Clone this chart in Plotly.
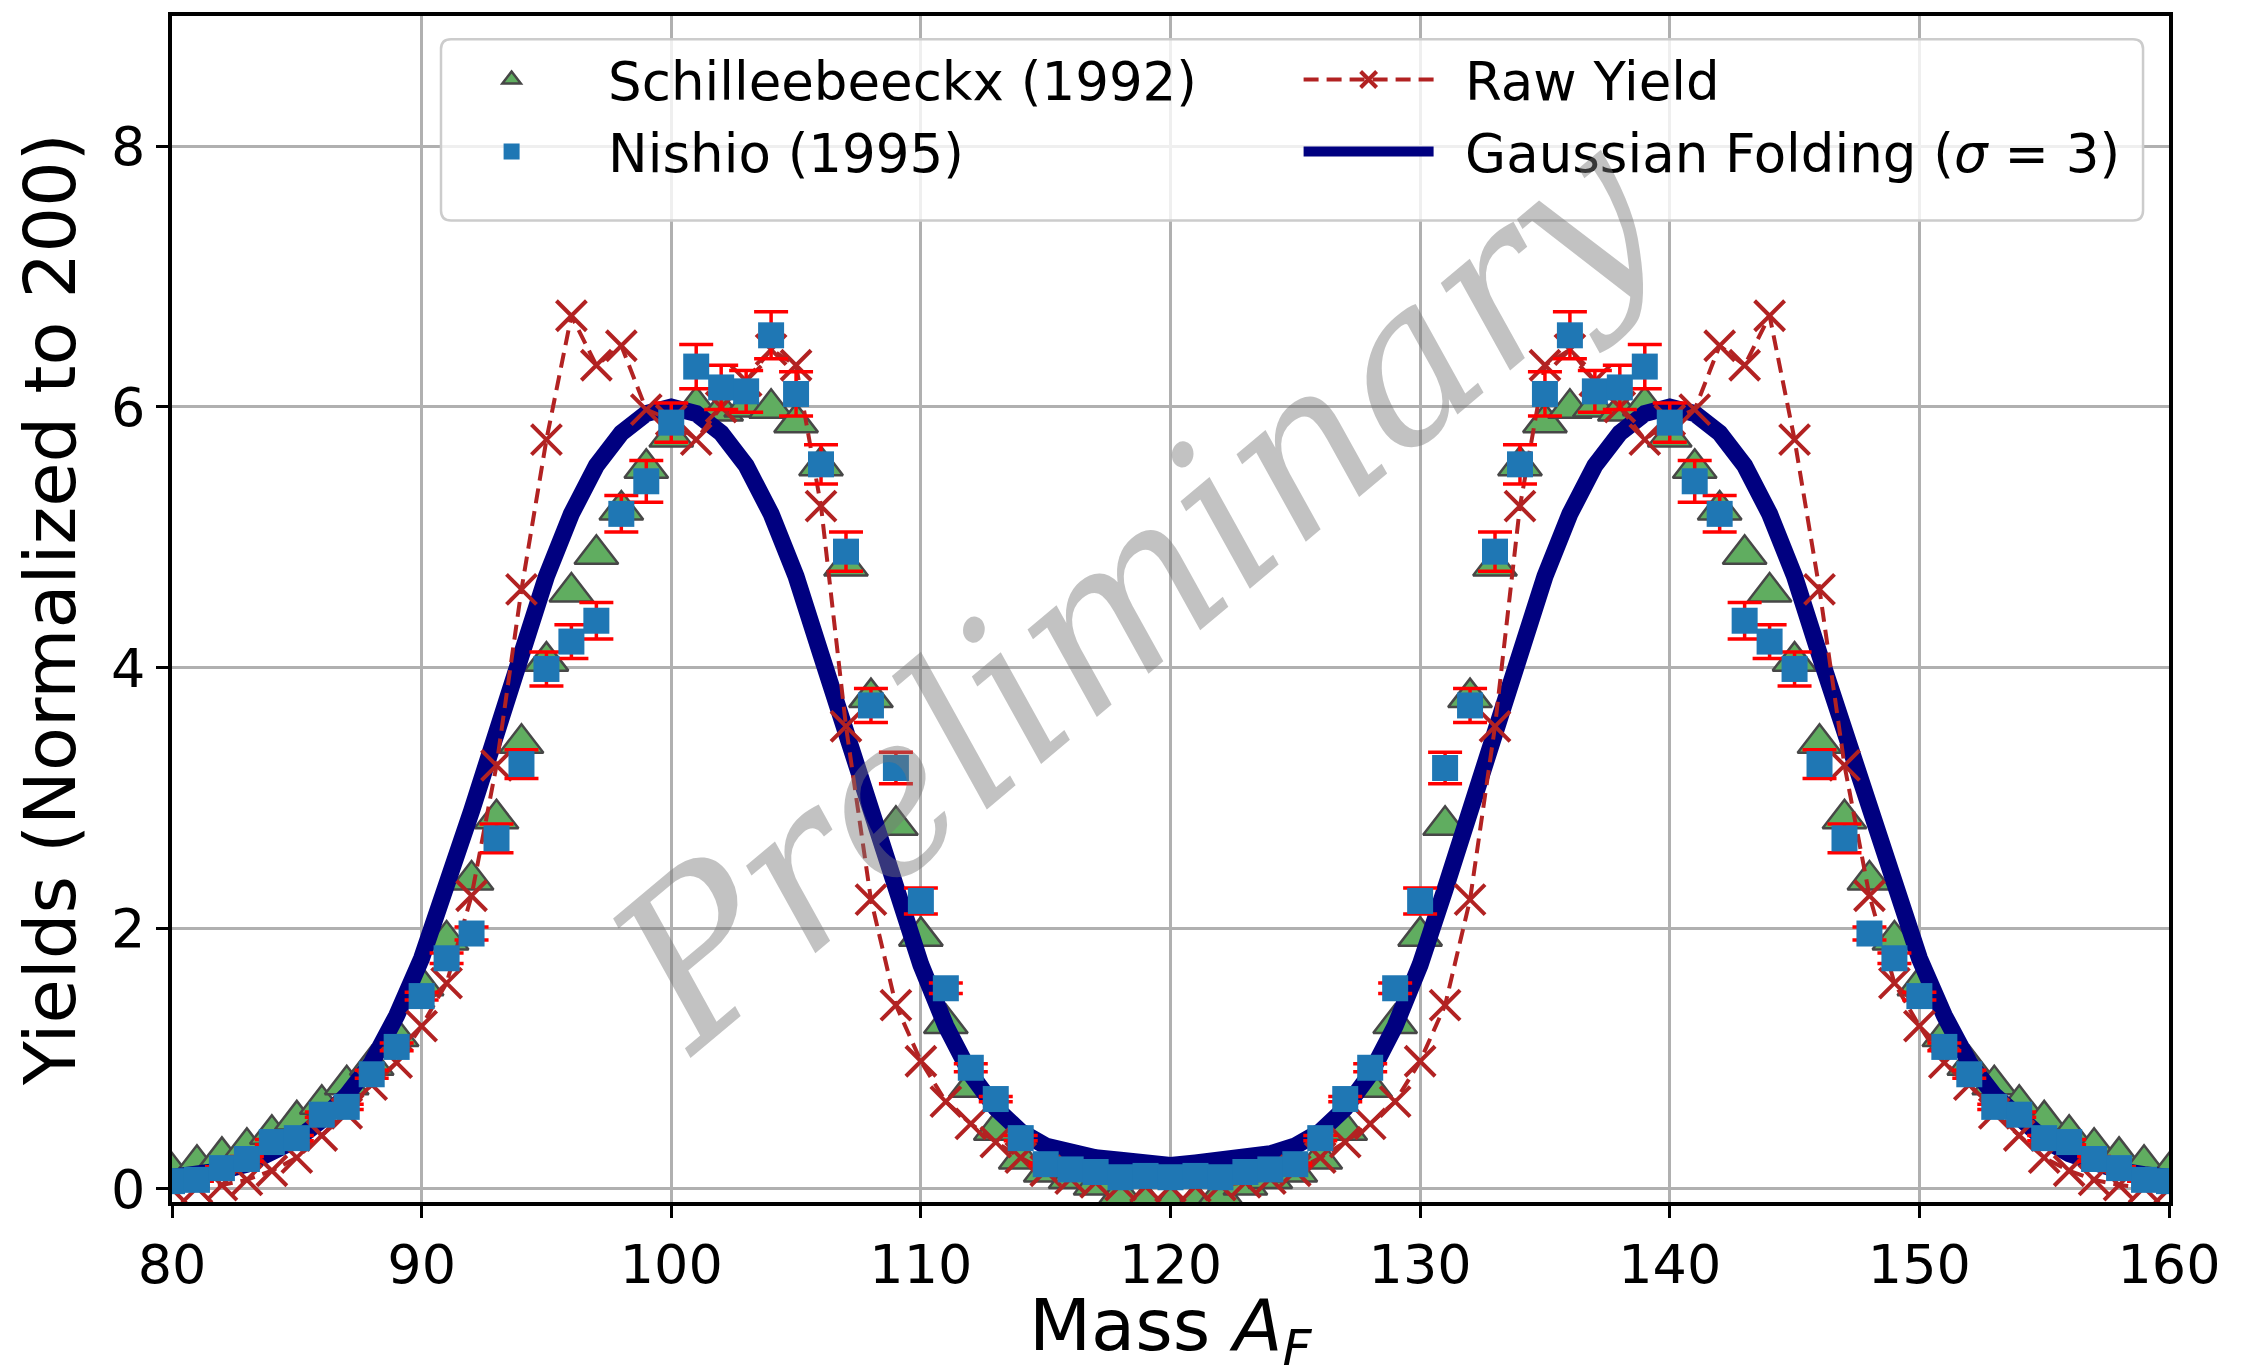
import plotly.graph_objects as go

mass = list(range(80, 161))

schilleebeeckx = [
    0.13, 0.19, 0.25, 0.32, 0.42, 0.53, 0.65, 0.80, 0.95, 1.17,
    1.56, 1.91, 2.37, 2.84, 3.42, 4.05, 4.58, 4.87, 5.21, 5.53,
    5.77, 6.01, 5.97, 6.00, 5.99, 5.88, 5.55, 4.78, 3.77, 2.79,
    1.94, 1.27, 0.78, 0.45, 0.23, 0.13, 0.08, 0.03, -0.04, -0.10,
    -0.12,
    -0.10, -0.04, 0.03, 0.08, 0.13, 0.23, 0.45, 0.78, 1.27, 1.94,
    2.79, 3.77, 4.78, 5.55, 5.88, 5.99, 6.00, 5.97, 6.01, 5.77,
    5.53, 5.21, 4.87, 4.58, 4.05, 3.42, 2.84, 2.37, 1.91, 1.56,
    1.17, 0.95, 0.80, 0.65, 0.53, 0.42, 0.32, 0.25, 0.19, 0.13,
]

nishio = [
    0.06, 0.07, 0.16, 0.23, 0.36, 0.39, 0.57, 0.63, 0.88, 1.09,
    1.48, 1.77, 1.96, 2.69, 3.26, 3.99, 4.20, 4.36, 5.18, 5.43,
    5.88, 6.31, 6.15, 6.12, 6.55, 6.10, 5.56, 4.89, 3.71, 3.23,
    2.21, 1.54, 0.93, 0.69, 0.39, 0.19, 0.15, 0.13, 0.09, 0.10,
    0.09,
    0.10, 0.09, 0.13, 0.15, 0.19, 0.39, 0.69, 0.93, 1.54, 2.21,
    3.23, 3.71, 4.89, 5.56, 6.10, 6.55, 6.12, 6.15, 6.31, 5.88,
    5.43, 5.18, 4.36, 4.20, 3.99, 3.26, 2.69, 1.96, 1.77, 1.48,
    1.09, 0.88, 0.63, 0.57, 0.39, 0.36, 0.23, 0.16, 0.07, 0.06,
]

nishio_err = [
    0.01, 0.01, 0.01, 0.02, 0.02, 0.02, 0.02, 0.02, 0.03, 0.03,
    0.03, 0.04, 0.05, 0.11, 0.11, 0.13, 0.13, 0.14, 0.14, 0.16,
    0.15, 0.17, 0.17, 0.16, 0.18, 0.17, 0.15, 0.15, 0.13, 0.12,
    0.10, 0.04, 0.03, 0.02, 0.02, 0.01, 0.01, 0.01, 0.01, 0.01,
    0.01,
    0.01, 0.01, 0.01, 0.01, 0.01, 0.02, 0.02, 0.03, 0.04, 0.10,
    0.12, 0.13, 0.15, 0.15, 0.17, 0.18, 0.16, 0.17, 0.17, 0.15,
    0.16, 0.14, 0.14, 0.13, 0.13, 0.11, 0.11, 0.05, 0.04, 0.03,
    0.03, 0.03, 0.02, 0.02, 0.02, 0.02, 0.02, 0.01, 0.01, 0.01,
]

raw_yield = [
    0.00, 0.01, 0.03, 0.07, 0.14, 0.24, 0.41, 0.58, 0.80, 0.97,
    1.25, 1.58, 2.25, 3.25, 4.60, 5.75, 6.70, 6.32, 6.47, 5.98,
    5.90, 5.75, 6.00, 6.20, 6.44, 6.32, 5.24, 3.55, 2.22, 1.41,
    0.98, 0.67, 0.50, 0.36, 0.24, 0.14, 0.08, 0.05, 0.03, 0.02,
    0.02,
    0.02, 0.03, 0.05, 0.08, 0.14, 0.24, 0.36, 0.50, 0.67, 0.98,
    1.41, 2.22, 3.55, 5.24, 6.32, 6.44, 6.20, 6.00, 5.75, 5.90,
    5.98, 6.47, 6.32, 6.70, 5.75, 4.60, 3.25, 2.25, 1.58, 1.25,
    0.97, 0.80, 0.58, 0.41, 0.24, 0.14, 0.07, 0.03, 0.01, 0.00,
]

gauss_fold = [
    0.09, 0.11, 0.14, 0.19, 0.27, 0.38, 0.53, 0.72, 0.97, 1.33,
    1.77, 2.30, 2.90, 3.50, 4.10, 4.70, 5.18, 5.55, 5.80, 5.95,
    6.00, 5.95, 5.80, 5.55, 5.18, 4.70, 4.10, 3.50, 2.90, 2.30,
    1.72, 1.25, 0.88, 0.62, 0.44, 0.33, 0.27, 0.24, 0.22, 0.20,
    0.18,
    0.20, 0.22, 0.24, 0.27, 0.33, 0.44, 0.62, 0.88, 1.25, 1.72,
    2.30, 2.90, 3.50, 4.10, 4.70, 5.18, 5.55, 5.80, 5.95, 6.00,
    5.95, 5.80, 5.55, 5.18, 4.70, 4.10, 3.50, 2.90, 2.30, 1.77,
    1.33, 0.97, 0.72, 0.53, 0.38, 0.27, 0.19, 0.14, 0.11, 0.09,
]

x_ticks = [80, 90, 100, 110, 120, 130, 140, 150, 160]
y_ticks = [0, 2, 4, 6, 8]

font = 'DejaVu Sans'
gap = '\u2002'  # small lead space between legend symbol and text

fig = go.Figure()

fig.add_trace(go.Scatter(
    x=mass, y=schilleebeeckx, mode='markers', name=gap + 'Schilleebeeckx (1992)',
    marker=dict(symbol='triangle-up', size=38, color='#60ad60',
                line=dict(width=2.5, color='#474747')),
    legendrank=1
))

fig.add_trace(go.Scatter(
    x=mass, y=gauss_fold, mode='lines', name=gap + 'Gaussian Folding (<i>σ</i> = 3)',
    line=dict(color='#000080', width=17),
    legendrank=4
))

fig.add_trace(go.Scatter(
    x=mass, y=raw_yield, mode='lines+markers', name=gap + 'Raw Yield',
    line=dict(color='#b22222', width=4, dash='15px,8px'),
    marker=dict(symbol='x-thin', size=30, line=dict(width=4, color='#b22222')),
    legendrank=2
))

fig.add_trace(go.Scatter(
    x=mass, y=nishio, mode='markers', name=gap + 'Nishio (1995)',
    marker=dict(symbol='square', size=26, color='#1f77b4'),
    error_y=dict(type='data', array=nishio_err, visible=True,
                 color='#ff0000', thickness=3.5, width=17),
    legendrank=3
))

fig.add_annotation(
    x=118.5, y=4.6, xref='x', yref='y',
    text='Preliminary', showarrow=False, textangle=-40,
    font=dict(family='DejaVu Serif', size=215, color='rgba(120,120,120,0.45)', style='italic')
)

# x-axis title placed as annotation for exact vertical position
fig.add_annotation(
    x=0.5, y=-0.108, xref='paper', yref='paper', xanchor='center', yanchor='middle',
    text='Mass <i>A</i><sub><i>F</i></sub>', showarrow=False,
    font=dict(family=font, size=72, color='black')
)

# legend frame (rounded box, semi-transparent white)
x0, x1, y0, y1 = 0.1347, 0.987, 0.8275, 0.9805
rx, ry = 0.005, 0.0084
frame = (f'M {x0 + rx},{y0} L {x1 - rx},{y0} Q {x1},{y0} {x1},{y0 + ry} '
         f'L {x1},{y1 - ry} Q {x1},{y1} {x1 - rx},{y1} L {x0 + rx},{y1} '
         f'Q {x0},{y1} {x0},{y1 - ry} L {x0},{y0 + ry} Q {x0},{y0} {x0 + rx},{y0} Z')
fig.add_shape(type='path', path=frame, xref='paper', yref='paper', layer='above',
              fillcolor='rgba(255,255,255,0.8)', line=dict(color='#cccccc', width=2.5))

axis_common = dict(
    showline=True, linewidth=3.5, linecolor='black', mirror=True,
    ticks='outside', ticklen=12, tickwidth=3, tickcolor='black',
    showgrid=True, gridcolor='#b0b0b0', gridwidth=2.5, zeroline=False,
    tickfont=dict(family=font, size=54, color='black'),
)

fig.update_layout(
    width=2247, height=1360,
    margin=dict(l=164, r=86, t=4, b=166),
    plot_bgcolor='white', paper_bgcolor='white',
    font=dict(family=font, color='black'),
    xaxis=dict(range=[80, 160], tickvals=x_ticks, **axis_common),
    yaxis=dict(range=[-0.1, 9.0], tickvals=y_ticks,
               title=dict(text='Yields (Normalized to 200)', font=dict(family=font, size=72), standoff=16),
               **axis_common),
    legend=dict(
        orientation='h', x=0.135, y=0.981, xanchor='left', yanchor='top',
        entrywidth=712, entrywidthmode='pixels', itemwidth=130,
        font=dict(family=font, size=53, color='black'),
        bgcolor='rgba(0,0,0,0)', borderwidth=0,
    ),
)

fig.write_html('out.html')
